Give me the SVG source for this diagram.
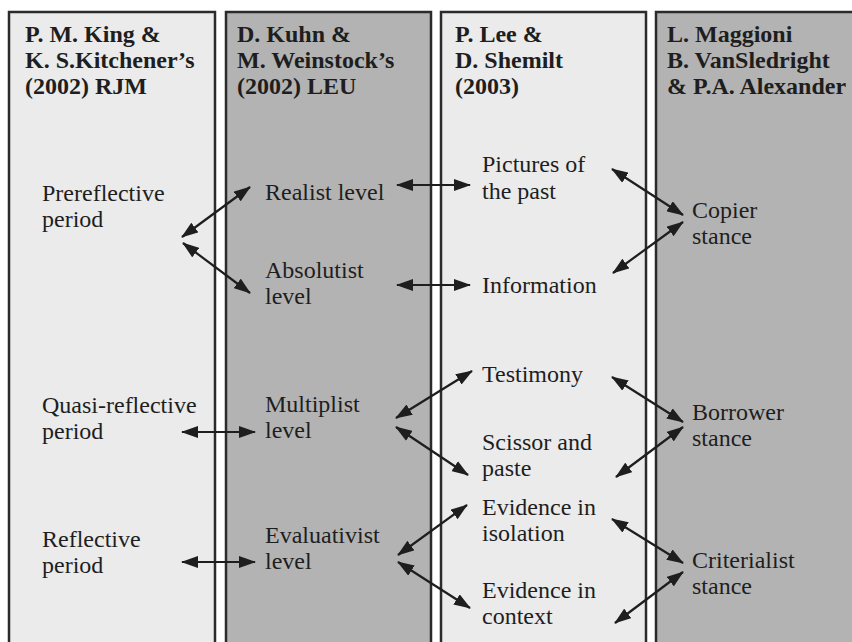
<svg xmlns="http://www.w3.org/2000/svg" width="852" height="642" viewBox="0 0 852 642">
<style>
.light{fill:#ebebeb;stroke:#2b2b2b;stroke-width:2.5}
.dark{fill:#b3b3b3;stroke:#2b2b2b;stroke-width:2.5}
.hd{font-family:"Liberation Serif","Times New Roman",Times,"DejaVu Serif",serif;font-weight:bold;font-size:24px;fill:#1e1e1e}
.tx{font-family:"Liberation Serif","Times New Roman",Times,"DejaVu Serif",serif;font-size:24px;fill:#1e1e1e}
.ar{stroke:#1e1e1e;stroke-width:2.2;fill:none;marker-start:url(#ah);marker-end:url(#ah)}
</style>
<defs>
<marker id="ah" viewBox="0 0 17 12" refX="16" refY="6" markerWidth="17" markerHeight="12" markerUnits="userSpaceOnUse" orient="auto-start-reverse">
<path d="M0,0 L17,6 L0,12 z" fill="#1e1e1e"/>
</marker>
</defs>
<rect width="852" height="642" fill="#ffffff"/>

<g id="col1">
<rect class="light" x="9" y="12" width="206" height="650"/>
<text class="hd" x="25" y="42">P. M. King &amp;</text>
<text class="hd" x="25" y="68">K. S.Kitchener’s</text>
<text class="hd" x="25" y="94">(2002) RJM</text>
</g>
<g id="col2">
<rect class="dark" x="226" y="12" width="205" height="650"/>
<text class="hd" x="237" y="42">D. Kuhn &amp;</text>
<text class="hd" x="237" y="68">M. Weinstock’s</text>
<text class="hd" x="237" y="94">(2002) LEU</text>
</g>
<g id="col3">
<rect class="light" x="441" y="12" width="205" height="650"/>
<text class="hd" x="455" y="42">P. Lee &amp;</text>
<text class="hd" x="455" y="68">D. Shemilt</text>
<text class="hd" x="455" y="94">(2003)</text>
</g>
<g id="col4">
<rect class="dark" x="656" y="12" width="220" height="650"/>
<text class="hd" x="667" y="42">L. Maggioni</text>
<text class="hd" x="667" y="68">B. VanSledright</text>
<text class="hd" x="667" y="94">&amp; P.A. Alexander</text>
</g>

<g id="prereflective"><text class="tx" x="42" y="201">Prereflective</text><text class="tx" x="42" y="227">period</text></g>
<g id="quasi"><text class="tx" x="42" y="413">Quasi-reflective</text><text class="tx" x="42" y="439">period</text></g>
<g id="reflective"><text class="tx" x="42" y="547">Reflective</text><text class="tx" x="42" y="573">period</text></g>

<g id="realist"><text class="tx" x="265" y="200">Realist level</text></g>
<g id="absolutist"><text class="tx" x="265" y="278">Absolutist</text><text class="tx" x="265" y="304">level</text></g>
<g id="multiplist"><text class="tx" x="265" y="412">Multiplist</text><text class="tx" x="265" y="438">level</text></g>
<g id="evaluativist"><text class="tx" x="265" y="543">Evaluativist</text><text class="tx" x="265" y="569">level</text></g>

<g id="pictures"><text class="tx" x="482" y="172">Pictures of</text><text class="tx" x="482" y="199">the past</text></g>
<g id="information"><text class="tx" x="482" y="293">Information</text></g>
<g id="testimony"><text class="tx" x="482" y="382">Testimony</text></g>
<g id="scissor"><text class="tx" x="482" y="450">Scissor and</text><text class="tx" x="482" y="476">paste</text></g>
<g id="isolation"><text class="tx" x="482" y="515">Evidence in</text><text class="tx" x="482" y="541">isolation</text></g>
<g id="context"><text class="tx" x="482" y="598">Evidence in</text><text class="tx" x="482" y="624">context</text></g>

<g id="copier"><text class="tx" x="692" y="218">Copier</text><text class="tx" x="692" y="244">stance</text></g>
<g id="borrower"><text class="tx" x="692" y="420">Borrower</text><text class="tx" x="692" y="446">stance</text></g>
<g id="criterialist"><text class="tx" x="692" y="568">Criterialist</text><text class="tx" x="692" y="594">stance</text></g>

<g id="connectors">
<line class="ar" x1="182" y1="237" x2="250" y2="187"/>
<line class="ar" x1="183" y1="243" x2="250" y2="293"/>
<line class="ar" x1="397" y1="185" x2="470" y2="185"/>
<line class="ar" x1="397" y1="285" x2="470" y2="285"/>
<line class="ar" x1="612" y1="169" x2="683" y2="215"/>
<line class="ar" x1="613" y1="273" x2="683" y2="222"/>
<line class="ar" x1="182" y1="432" x2="255" y2="432"/>
<line class="ar" x1="182" y1="562" x2="255" y2="562"/>
<line class="ar" x1="396" y1="418" x2="472" y2="371"/>
<line class="ar" x1="396" y1="427" x2="468" y2="475"/>
<line class="ar" x1="612" y1="377" x2="683" y2="422"/>
<line class="ar" x1="616" y1="477" x2="683" y2="427"/>
<line class="ar" x1="398" y1="555" x2="467" y2="505"/>
<line class="ar" x1="398" y1="562" x2="470" y2="608"/>
<line class="ar" x1="612" y1="519" x2="683" y2="563"/>
<line class="ar" x1="615" y1="623" x2="683" y2="572"/>
</g>
</svg>
